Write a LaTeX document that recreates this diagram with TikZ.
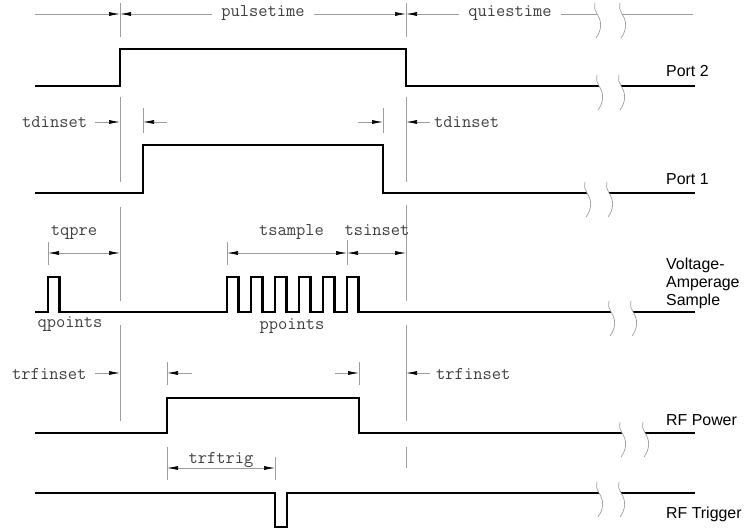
\documentclass[tikz,border=0pt]{standalone}
\usepackage{fontspec}
\newfontfamily\sansf{Liberation Sans}
\usetikzlibrary{arrows.meta}
\tikzset{
  dtip/.tip={Latex[length=11pt,width=4pt,color=black]},
  sig/.style={line width=2.9pt,line join=miter,line cap=butt,black},
  guide/.style={line width=0.7pt,black!38},
  dim/.style={line width=0.7pt,black!38},
  mlbl/.style={font=\ttfamily\fontsize{18}{20}\selectfont,text=black!75,inner sep=0pt},
  slbl/.style={font=\sansf\fontsize{15.9}{18}\selectfont,text=black,inner sep=0pt,anchor=base west},
  brk/.pic={\draw[guide] (-2,-11) .. controls (-3,-6) and (-2,-3) .. (0,0) .. controls (5,7) and (5,16) .. (-1,24);}
}
\begin{document}
\begin{tikzpicture}[x=1pt,y=-1pt]
\useasboundingbox (0,0) rectangle (746,529);

% ---------- long guide lines ----------
\foreach \a/\b in {3/37,97/182,207/301,325/421} \draw[guide] (120,\a) -- (120,\b);
\foreach \a/\b in {3/37,97/182,205/301,325/421,447/468} \draw[guide] (406,\a) -- (406,\b);

% ---------- extension lines ----------
\foreach \x/\a/\b in {143/108/133,383/108/133,48/242/265,227/242/265,347/240/265,167/362/385,359/362/385,167/447/480,275/457/480}
  \draw[guide] (\x,\a) -- (\x,\b);

% ---------- row: pulsetime / quiestime ----------
\coordinate (t0) at (35,14);
\coordinate (t1) at (120,14);
\coordinate (t2) at (406,14);
\coordinate (t3) at (597,14);
\coordinate (t4) at (622,14);
\coordinate (t5) at (693,14);
\draw[dim,-dtip] (t0) -- (t1);
\draw[dim,dtip-dtip] (t1) -- (t2);
\draw[dim,dtip-] (t2) -- (t3);
\draw[dim] (t4) -- (t5);
\node[mlbl,fill=white,inner xsep=9pt,inner ysep=2pt,anchor=mid] (pulse) at (263,14) {pulsetime};
\node[mlbl,fill=white,inner xsep=9pt,inner ysep=2pt,anchor=mid] (quies) at (510,14) {quiestime};
\pic at (t3) {brk};
\pic at (t4) {brk};

% ---------- Port 2 ----------
\draw[sig] (35,86) -- (120,86) -- (120,49) -- (406,49) -- (406,86) -- (599,86);
\draw[sig] (621,86) -- (695,86);
\pic at (599,86) {brk};
\pic at (621,86) {brk};
\node[slbl] (p2) at (666,77) {Port 2};

% ---------- tdinset row ----------
\node[mlbl,anchor=base west] (tdl) at (22,128) {tdinset};
\node[mlbl,anchor=base west] (tdr) at (434,128) {tdinset};
\draw[dim,-dtip] (95,122) -- (120,122);
\draw[dim,-dtip] (167,122) -- (143,122);
\draw[dim,-dtip] (358,122) -- (383,122);
\draw[dim,-dtip] (430,122) -- (406,122);

% ---------- Port 1 ----------
\draw[sig] (35,193) -- (143,193) -- (143,145) -- (383,145) -- (383,193) -- (587,193);
\draw[sig] (609,193) -- (695,193);
\pic at (587,193) {brk};
\pic at (609,193) {brk};
\node[slbl] (p1) at (666,185) {Port 1};

% ---------- tqpre / tsample / tsinset ----------
\node[mlbl,anchor=base] (tq) at (74,236) {tqpre};
\node[mlbl,anchor=base] (ts) at (291.5,236) {tsample};
\node[mlbl,anchor=base] (tsi) at (377,236) {tsinset};
\draw[dim,dtip-dtip] (48,253) -- (120,253);
\draw[dim,dtip-dtip] (227,253) -- (347,253);
\draw[dim,dtip-dtip] (347,253) -- (406,253);

% ---------- Voltage-Amperage Sample ----------
\draw[sig] (35,312) -- (48,312) -- (48,277) -- (59.5,277) -- (59.5,312) -- (227,312)
  foreach \i in {0,...,5} { -- ({227+24*\i},312) -- ({227+24*\i},277) -- ({238.5+24*\i},277) -- ({238.5+24*\i},312) }
  -- (611,312);
\draw[sig] (633,312) -- (695,312);
\pic at (611,312) {brk};
\pic at (633,312) {brk};
\node[mlbl,anchor=base] (qp) at (70,327) {qpoints};
\node[mlbl,anchor=base] (pp) at (292,329) {ppoints};
\node[slbl] (va1) at (666,269) {Voltage-};
\node[slbl] (va2) at (666,287) {Amperage};
\node[slbl] (va3) at (666,305) {Sample};

% ---------- trfinset row ----------
\node[mlbl,anchor=base west] (trl) at (12,379) {trfinset};
\node[mlbl,anchor=base west] (trr) at (436,379) {trfinset};
\draw[dim,-dtip] (95,373) -- (120,373);
\draw[dim,-dtip] (192,373) -- (167,373);
\draw[dim,-dtip] (335,373) -- (359,373);
\draw[dim,-dtip] (430,373) -- (406,373);

% ---------- RF Power ----------
\draw[sig] (35,433) -- (167,433) -- (167,398) -- (359,398) -- (359,433) -- (622,433);
\draw[sig] (645,433) -- (695,433);
\pic at (622,433) {brk};
\pic at (645,433) {brk};
\node[slbl] (rfp) at (666,425) {RF Power};

% ---------- trftrig ----------
\node[mlbl,anchor=base] (trg) at (221,463) {trftrig};
\draw[dim,dtip-dtip] (167,468) -- (275,468);

% ---------- RF Trigger ----------
\draw[sig] (35,493) -- (275,493) -- (275,527) -- (287,527) -- (287,493) -- (599,493);
\draw[sig] (621,493) -- (695,493);
\pic at (599,493) {brk};
\pic at (621,493) {brk};
\node[slbl] (rft) at (666,518) {RF Trigger};
\end{tikzpicture}
\end{document}
